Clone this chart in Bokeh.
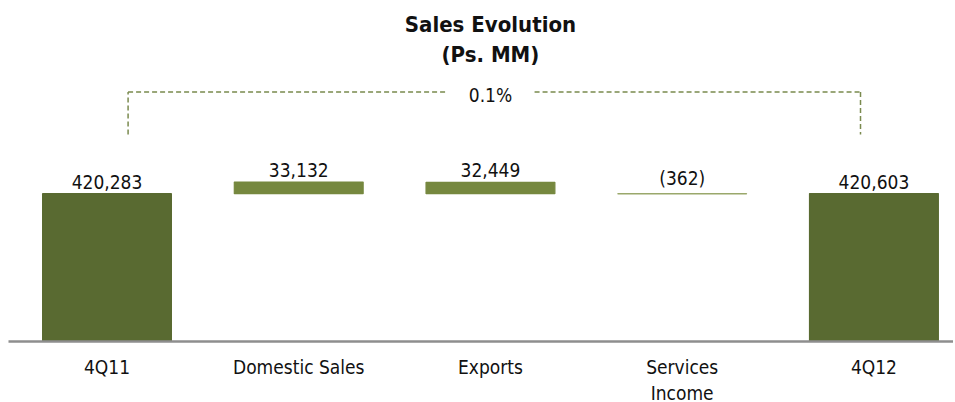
from bokeh.plotting import figure
from bokeh.models import Range1d, FixedTicker, ColumnDataSource, Label
from bokeh.core.properties import value
from bokeh.embed import file_html
from bokeh.resources import INLINE

# ---- data ----
categories = ["4Q11", "Domestic Sales", "Exports", "Services\nIncome", "4Q12"]
values = [420283, 33132, 32449, -362, 420603]
kinds = ["total", "delta", "delta", "delta", "total"]
value_labels = ["420,283", "33,132", "32,449", "(362)", "420,603"]
title_lines = ["Sales Evolution", "(Ps. MM)"]

FONT = "DejaVu Sans Condensed, DejaVu Sans, sans-serif"
DARK = "#596a31"
MID = "#76883f"
LIGHT = "#9aa86b"
DASH = "#7a8a4e"

start = values[0]
xs = list(range(len(categories)))
bottoms, tops, colors = [], [], []
for v, k in zip(values, kinds):
    if k == "total":
        bottoms.append(0); tops.append(v); colors.append(DARK)
    else:
        bottoms.append(start); tops.append(start + v)
        colors.append(MID if v >= 0 else LIGHT)
label_y = [max(b, t) for b, t in zip(bottoms, tops)]

src = ColumnDataSource(dict(x=xs, bottom=bottoms, top=tops, color=colors,
                            ly=label_y, lab=value_labels))

TOP = 8
FRAME_H = 333
UPP = 2844  # data units per pixel
Y_MAX = FRAME_H * UPP


def py(pic_px):
    return (TOP + FRAME_H - pic_px) * UPP

p = figure(frame_width=945, frame_height=FRAME_H, output_backend="svg",
           toolbar_location=None, min_border=0, min_border_left=8,
           min_border_top=TOP,
           x_range=Range1d(-0.5137, 4.415), y_range=Range1d(0, Y_MAX))
p.outline_line_color = None
p.grid.visible = False
p.yaxis.visible = False
p.background_fill_color = "white"
p.border_fill_color = "white"

p.vbar(x="x", bottom="bottom", top="top", width=0.672, source=src,
       fill_color="color", line_color="color", line_width=1.2)

p.text(x="x", y="ly", text="lab", source=src, text_align="center",
       text_baseline="bottom", y_offset=-5,
       text_font=value(FONT), text_font_size="19px", text_color="#111111")

# bracket between first and last totals
pct = (values[-1] / values[0] - 1) * 100
by = py(91.5)
leg_bottom = py(134)
lx, rx = xs[0] + 0.11, xs[-1] - 0.07
mid = (xs[0] + xs[-1]) / 2
gap = 0.23
p.segment(x0=[lx, lx, mid + gap, rx], y0=[leg_bottom, by, by, by],
          x1=[lx, mid - gap, rx, rx], y1=[by, by, by, leg_bottom],
          line_color=DASH, line_width=1.5, line_dash="5 3")
p.add_layout(Label(x=mid, y=py(94), text=f"{pct:.1f}%", text_align="center",
                   text_baseline="middle", text_font=FONT,
                   text_font_size="19px", text_color="#111111"))

# title
p.add_layout(Label(x=mid, y=py(24), text=title_lines[0], text_align="center",
                   text_baseline="middle", text_font=FONT,
                   text_font_style="bold", text_font_size="22px",
                   text_color="#111111"))
p.add_layout(Label(x=mid, y=py(53.5), text=title_lines[1], text_align="center",
                   text_baseline="middle", text_font=FONT,
                   text_font_style="bold", text_font_size="22px",
                   text_color="#111111"))

ax = p.xaxis[0]
ax.ticker = FixedTicker(ticks=xs)
ax.major_label_overrides = {i: c for i, c in zip(xs, categories)}
ax.major_tick_line_color = None
ax.minor_tick_line_color = None
ax.axis_line_color = "#8e8e8e"
ax.axis_line_width = 2.5
ax.major_label_standoff = 8
ax.major_label_text_font = FONT
ax.major_label_text_font_size = "19px"
ax.major_label_text_color = "#111111"

open("out.html", "w").write(file_html(p, INLINE))
